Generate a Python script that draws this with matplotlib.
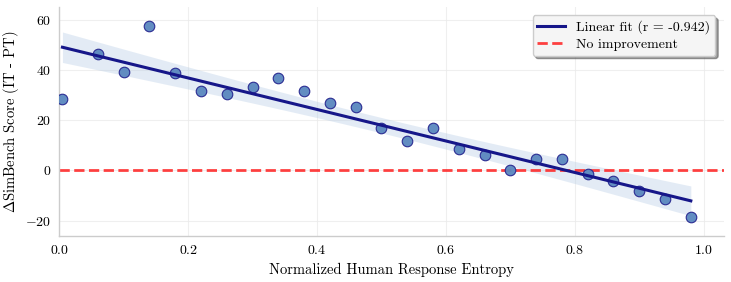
import numpy as np
import matplotlib.pyplot as plt

plt.rcParams['font.family'] = 'serif'
plt.rcParams['font.serif'] = ['cmr10', 'DejaVu Serif']
plt.rcParams['mathtext.fontset'] = 'cm'
plt.rcParams['axes.formatter.use_mathtext'] = True

entropy = [0.005, 0.06, 0.10, 0.14, 0.18, 0.22, 0.26, 0.30, 0.34, 0.38, 0.42, 0.46,
           0.50, 0.54, 0.58, 0.62, 0.66, 0.70, 0.74, 0.78, 0.82, 0.86, 0.90, 0.94, 0.98]
delta_score = [28.3, 46.4, 39.3, 57.5, 38.7, 31.7, 30.4, 33.1, 36.7, 31.7, 27.1, 25.4,
               17.0, 11.8, 17.1, 8.6, 6.0, 0.1, 4.4, 4.4, -1.3, -4.4, -8.3, -11.4, -18.6]

x = np.array(entropy)
y = np.array(delta_score)

slope, intercept = np.polyfit(x, y, 1)
r = np.corrcoef(x, y)[0, 1]
xs = np.linspace(x.min(), x.max(), 100)
ys = slope * xs + intercept
n = len(x)
resid = y - (slope * x + intercept)
s = np.sqrt(np.sum(resid ** 2) / (n - 2))
se = s * np.sqrt(1 / n + (xs - x.mean()) ** 2 / np.sum((x - x.mean()) ** 2))
ci = 2.069 * se

fig, ax = plt.subplots(figsize=(7.31, 2.82), dpi=100)
fig.subplots_adjust(left=0.081, right=0.99, top=0.975, bottom=0.163)

ax.grid(True, color='#ebebeb', linewidth=0.8, alpha=0.8)
ax.set_axisbelow(True)

ax.fill_between(xs, ys - ci * 1.1, ys + ci * 1.1, color='#b0c8e4', alpha=0.35, linewidth=0)
ax.axhline(0, color='#ff2020', linestyle='--', linewidth=2.0, alpha=0.85, label='No improvement', zorder=2)
ax.scatter(x, y, s=58, color='#5a87bf', edgecolor='#25258f', linewidth=0.8, alpha=0.95, zorder=3)
ax.plot(xs, ys, color='#161689', linewidth=2.2, label=f'Linear fit (r = {r:.3f})', zorder=4)

ax.set_xlim(0, 1.031)
ax.set_ylim(-26.2, 65.2)
ax.set_xticks([0.0, 0.2, 0.4, 0.6, 0.8, 1.0])
ax.set_yticks([-20, 0, 20, 40, 60])
ax.tick_params(labelsize=10, length=0)
ax.tick_params(axis='y', pad=6)
ax.tick_params(axis='x', pad=6)

ax.set_xlabel('Normalized Human Response Entropy', fontsize=10.5)
ax.set_ylabel(r'$\Delta$SimBench Score (IT - PT)', fontsize=10.5, labelpad=3)

for side in ['top', 'right']:
    ax.spines[side].set_visible(False)
for side in ['left', 'bottom']:
    ax.spines[side].set_color('#cccccc')
    ax.spines[side].set_linewidth(1.0)

handles, labels = ax.get_legend_handles_labels()
ax.legend(handles[::-1], labels[::-1], loc='upper right', fontsize=10, frameon=True,
          fancybox=True, shadow=True, facecolor='#f5f5f5', edgecolor='#cccccc',
          framealpha=1, labelspacing=0.3, borderpad=0.35, handlelength=2.0,
          handletextpad=0.8, borderaxespad=0.6)

plt.savefig('out.png', dpi=100)
